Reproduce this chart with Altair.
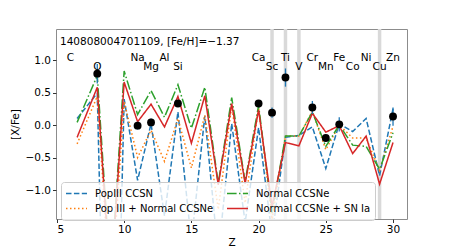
import altair as alt
import pandas as pd

# ---- model abundance patterns ([X/Fe]) ----
Z_MODEL = [6.5, 8, 9, 10, 11, 12, 13, 14, 15, 16, 17, 18, 19, 20, 21, 22, 23, 24, 25, 26, 27, 28, 29, 30]
POP3 = [0.10, 0.49, -8.0, 0.40, -0.85, 0.02, -1.40, 0.20, -1.80, 0.14, -2.0, 0.02, -1.50, -0.04, -1.70,
        -0.19, -0.16, -0.03, -0.67, 0.02, -0.10, 0.10, -0.78, 0.25]
POP3_NORMAL = [-0.29, 0.44, -2.7, 0.36, -0.50, -0.08, -0.56, 0.10, -0.66, 0.15, -1.30, 0.30, -1.20, 0.27, -1.45,
               -0.17, -0.17, 0.21, -0.38, 0.00, -0.20, -0.20, -0.70, -0.02]
NORMAL = [0.04, 0.76, -2.4, 0.83, 0.16, 0.53, 0.12, 0.62, -0.05, 0.58, -0.90, 0.42, -0.87, 0.30, -1.35,
          -0.17, -0.17, 0.20, -0.33, 0.00, -0.31, -0.33, -0.68, -0.12]
NORMAL_IA = [-0.19, 0.58, -2.5, 0.66, 0.05, 0.32, -0.03, 0.44, -0.28, 0.45, -0.92, 0.33, -0.90, 0.23, -1.25,
             -0.27, -0.32, 0.18, -0.11, -0.01, -0.44, -0.17, -0.91, -0.27]
SERIES = ["PopIII CCSN", "Pop III + Normal CCSNe", "Normal CCSNe", "Normal CCSNe + SN Ia"]
COLORS = {"PopIII CCSN": "#1f77b4", "Pop III + Normal CCSNe": "#ff7f0e",
          "Normal CCSNe": "#2ca02c", "Normal CCSNe + SN Ia": "#d62728"}
DASHES = {"PopIII CCSN": [5.5, 2.4], "Pop III + Normal CCSNe": [1.5, 2.5],
          "Normal CCSNe": [9.6, 2.4, 1.5, 2.4], "Normal CCSNe + SN Ia": [1, 0]}

# ---- observed abundances ----
OBS_Z = [8, 11, 12, 14, 20, 21, 22, 24, 25, 26, 30]
OBS_VAL = [0.79, -0.01, 0.04, 0.33, 0.33, 0.19, 0.73, 0.27, -0.20, 0.01, 0.13]
OBS_ERR = [0.15, 0.06, 0.06, 0.05, 0.05, 0.08, 0.14, 0.10, 0.05, 0.11, 0.14]

# ---- element labels ----
ELEM_Z = [6, 8, 11, 12, 13, 14, 20, 21, 22, 23, 24, 25, 26, 27, 28, 29, 30]
ELEM_NAME = ["C", "O", "Na", "Mg", "Al", "Si", "Ca", "Sc", "Ti", "V", "Cr", "Mn", "Fe", "Co", "Ni", "Cu", "Zn"]
ELEM_ROW = [0, 1, 0, 1, 0, 1, 0, 1, 0, 1, 0, 1, 0, 1, 0, 1, 0]

BAND_Z = [21, 22, 23, 29]
TITLE = "140808004701109, [Fe/H]=\u22121.37"

X_TICKS = [5, 10, 15, 20, 25, 30]
Y_TICKS = [-1.0, -0.5, 0.0, 0.5, 1.0]

XDOM = [4.93, 31.04]
YDOM = [-1.446, 1.477]
FONT = "DejaVu Sans"

rows = []
for name, vals in zip(SERIES, [POP3, POP3_NORMAL, NORMAL, NORMAL_IA]):
    for z, v in zip(Z_MODEL, vals):
        rows.append({"Z": z, "val": v, "model": name})
model_df = pd.DataFrame(rows)

obs_df = pd.DataFrame({"Z": OBS_Z, "val": OBS_VAL, "err": OBS_ERR})
obs_df["lo"] = obs_df["val"] - obs_df["err"]
obs_df["hi"] = obs_df["val"] + obs_df["err"]

elem_df = pd.DataFrame({"Z": ELEM_Z, "name": ELEM_NAME, "row": ELEM_ROW})
elem_df["y"] = elem_df["row"].map({0: 1.03, 1: 0.885})

band_df = pd.DataFrame({"Z": BAND_Z})
band_df["z0"] = band_df["Z"] - 0.13
band_df["z1"] = band_df["Z"] + 0.13

xscale = alt.Scale(domain=XDOM, nice=False, zero=False)
yscale = alt.Scale(domain=YDOM, nice=False, zero=False)

xaxis = alt.Axis(values=X_TICKS, format="d", title="Z", grid=False, domain=False,
                 tickSize=3.5, tickColor="#333", labelPadding=2, titlePadding=2,
                 labelFont=FONT, labelFontSize=10.5, titleFont=FONT, titleFontSize=10.5,
                 titleFontWeight="normal", labelColor="black", titleColor="black")
yaxis = alt.Axis(values=Y_TICKS, format=".1f", title="[X/Fe]", grid=False, domain=False,
                 tickSize=3.5, tickColor="#333", labelPadding=2, titlePadding=5,
                 labelFont=FONT, labelFontSize=10.5, titleFont=FONT, titleFontSize=10.5,
                 titleFontWeight="normal", labelColor="black", titleColor="black")

bands = alt.Chart(band_df).mark_rect(color="#d9d9d9").encode(
    x=alt.X("z0:Q", scale=xscale, axis=xaxis),
    x2="z1:Q",
    y=alt.value(0),
    y2=alt.value(190),
)

legend = alt.Legend(orient="none", legendX=5, legendY=153, columns=2, title=None,
                    symbolType="stroke", symbolSize=441, symbolStrokeWidth=1.5,
                    labelFont=FONT, labelFontSize=10, labelColor="black", labelLimit=300,
                    labelOffset=7, columnPadding=12, rowPadding=0, padding=4, clipHeight=15,
                    fillColor="rgba(255,255,255,0.8)", strokeColor="#cccccc", cornerRadius=3)

lines = alt.Chart(model_df).mark_line(strokeWidth=1.5, clip=True).encode(
    x=alt.X("Z:Q", scale=xscale, axis=xaxis),
    y=alt.Y("val:Q", scale=yscale, axis=yaxis),
    color=alt.Color("model:N", scale=alt.Scale(domain=SERIES,
                    range=[COLORS[s] for s in SERIES]), legend=legend),
    strokeDash=alt.StrokeDash("model:N", scale=alt.Scale(domain=SERIES,
                    range=[DASHES[s] for s in SERIES]), legend=legend),
    detail="model:N",
)

errbars = alt.Chart(obs_df).mark_rule(color="#1f77b4", strokeWidth=1.3).encode(
    x=alt.X("Z:Q", scale=xscale),
    y=alt.Y("lo:Q", scale=yscale),
    y2="hi:Q",
)

points = alt.Chart(obs_df).mark_circle(size=62, color="black", opacity=1).encode(
    x=alt.X("Z:Q", scale=xscale),
    y=alt.Y("val:Q", scale=yscale),
)

labels = alt.Chart(elem_df).mark_text(font=FONT, fontSize=10.5, color="black",
                                      baseline="middle", align="center").encode(
    x=alt.X("Z:Q", scale=xscale),
    y=alt.Y("y:Q", scale=yscale),
    text="name:N",
)

title_text = alt.Chart(pd.DataFrame({"t": [TITLE]})).mark_text(
    font=FONT, fontSize=10.5, color="black", align="left", baseline="middle"
).encode(x=alt.value(4), y=alt.value(13), text="t:N")

chart = alt.layer(bands, lines, errbars, points, labels, title_text).properties(
    width=351, height=190,
    autosize=alt.AutoSizeParams(type="none"),
    padding={"left": 48, "top": 21, "right": 37, "bottom": 27},
).configure_view(stroke="#8c8c8c", strokeWidth=1).resolve_scale(
    color="shared", strokeDash="shared")

chart.save("out.html", embed_options={"renderer": "svg", "actions": False})
